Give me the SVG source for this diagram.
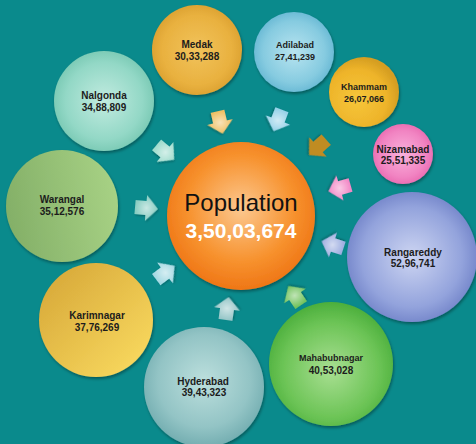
<svg xmlns="http://www.w3.org/2000/svg" xmlns:xlink="http://www.w3.org/1999/xlink" width="476" height="444" viewBox="0 0 476 444">
  <style>
    .lbl { font-family: "Liberation Sans", Arial, sans-serif; font-weight: bold; font-size: 10px; fill: #1c1c1c; text-anchor: middle; }
    .sm { font-size: 9px; }
    .title { font-family: "Liberation Sans", Arial, sans-serif; font-size: 24px; fill: #111; text-anchor: middle; }
    .total { font-family: "Liberation Sans", Arial, sans-serif; font-weight: bold; font-size: 21px; fill: #ffffff; text-anchor: middle; }
    .node circle { filter: url(#sh); }
  </style>
  <defs>
    <filter id="sh" x="-20%" y="-20%" width="140%" height="140%">
      <feDropShadow dx="1" dy="2" stdDeviation="1.8" flood-color="#000" flood-opacity="0.35"/>
    </filter>
    <filter id="ash" x="-30%" y="-30%" width="160%" height="160%">
      <feDropShadow dx="1" dy="1" stdDeviation="1" flood-color="#000" flood-opacity="0.3"/>
    </filter>
    <radialGradient id="gPop" cx="50%" cy="45%" r="55%">
      <stop offset="0" stop-color="#fcc890"/>
      <stop offset="0.65" stop-color="#f7922e"/>
      <stop offset="1" stop-color="#ef7616"/>
    </radialGradient>
    <radialGradient id="gMed" cx="50%" cy="50%" r="55%">
      <stop offset="0" stop-color="#f1c35c"/>
      <stop offset="0.7" stop-color="#e9b13f"/>
      <stop offset="1" stop-color="#d99e2e"/>
    </radialGradient>
    <radialGradient id="gAdi" cx="50%" cy="50%" r="55%">
      <stop offset="0" stop-color="#b8e4f0"/>
      <stop offset="0.7" stop-color="#86cbe0"/>
      <stop offset="1" stop-color="#62b5d2"/>
    </radialGradient>
    <radialGradient id="gKha" cx="40%" cy="60%" r="60%">
      <stop offset="0" stop-color="#f6c63a"/>
      <stop offset="0.7" stop-color="#eeb42a"/>
      <stop offset="1" stop-color="#d59e22"/>
    </radialGradient>
    <radialGradient id="gNiz" cx="50%" cy="50%" r="55%">
      <stop offset="0" stop-color="#fab2dc"/>
      <stop offset="0.7" stop-color="#f184c2"/>
      <stop offset="1" stop-color="#e866ae"/>
    </radialGradient>
    <radialGradient id="gNal" cx="50%" cy="50%" r="55%">
      <stop offset="0" stop-color="#c2ebe0"/>
      <stop offset="0.7" stop-color="#93d8c6"/>
      <stop offset="1" stop-color="#74c6b0"/>
    </radialGradient>
    <linearGradient id="gWar" x1="0" y1="0.5" x2="1" y2="0.3">
      <stop offset="0" stop-color="#84b068"/>
      <stop offset="1" stop-color="#a8d285"/>
    </linearGradient>
    <linearGradient id="gKar" x1="0.1" y1="0.1" x2="0.9" y2="0.9">
      <stop offset="0" stop-color="#d8aa3a"/>
      <stop offset="1" stop-color="#f8d85e"/>
    </linearGradient>
    <radialGradient id="gHyd" cx="50%" cy="45%" r="55%">
      <stop offset="0" stop-color="#bcdfdd"/>
      <stop offset="0.7" stop-color="#93c4c5"/>
      <stop offset="1" stop-color="#74aeb1"/>
    </radialGradient>
    <radialGradient id="gRan" cx="50%" cy="50%" r="55%">
      <stop offset="0" stop-color="#cdd5f2"/>
      <stop offset="0.7" stop-color="#93a3dc"/>
      <stop offset="1" stop-color="#6d7fc6"/>
    </radialGradient>
    <radialGradient id="gMah" cx="50%" cy="55%" r="55%">
      <stop offset="0" stop-color="#a9df92"/>
      <stop offset="0.7" stop-color="#6cc456"/>
      <stop offset="1" stop-color="#4caf3c"/>
    </radialGradient>
    <radialGradient id="shine" cx="50%" cy="50%" r="50%">
      <stop offset="0" stop-color="#ffffff" stop-opacity="0.55"/>
      <stop offset="1" stop-color="#ffffff" stop-opacity="0"/>
    </radialGradient>
    <polygon id="arr" points="-11,-7 0,-7 0,-13 12,0 0,13 0,7 -11,7"/>
  </defs>

  <rect width="476" height="444" fill="#0a8a8c"/>

  <g id="connectors">
    <g transform="translate(220,122) rotate(77)"><use xlink:href="#arr" fill="#efbf62" filter="url(#ash)"/><use xlink:href="#arr" fill="url(#shine)"/></g>
    <g transform="translate(278,120) rotate(111)"><use xlink:href="#arr" fill="#95d2e8" filter="url(#ash)"/><use xlink:href="#arr" fill="url(#shine)"/></g>
    <g transform="translate(318,147) rotate(138)"><use xlink:href="#arr" fill="#c08c24" filter="url(#ash)"/></g>
    <g transform="translate(340,188) rotate(164)"><use xlink:href="#arr" fill="#f288c6" filter="url(#ash)"/><use xlink:href="#arr" fill="url(#shine)"/></g>
    <g transform="translate(333,245) rotate(-162)"><use xlink:href="#arr" fill="#9eaee0" filter="url(#ash)"/><use xlink:href="#arr" fill="url(#shine)"/></g>
    <g transform="translate(295,296) rotate(-124)"><use xlink:href="#arr" fill="#72c25c" filter="url(#ash)"/><use xlink:href="#arr" fill="url(#shine)"/></g>
    <g transform="translate(227,309) rotate(-82)"><use xlink:href="#arr" fill="#96c6c8" filter="url(#ash)"/><use xlink:href="#arr" fill="url(#shine)"/></g>
    <g transform="translate(165,273) rotate(-37)"><use xlink:href="#arr" fill="#a2d8e2" filter="url(#ash)"/><use xlink:href="#arr" fill="url(#shine)"/></g>
    <g transform="translate(146,208) rotate(5)"><use xlink:href="#arr" fill="#88cdc2" filter="url(#ash)"/><use xlink:href="#arr" fill="url(#shine)"/></g>
    <g transform="translate(165,152) rotate(40)"><use xlink:href="#arr" fill="#9edccd" filter="url(#ash)"/><use xlink:href="#arr" fill="url(#shine)"/></g>
  </g>

  <g id="population" class="node">
    <circle cx="241" cy="216" r="74" fill="url(#gPop)"/>
    <text class="title" x="241" y="211">Population</text>
    <text class="total" x="241" y="238">3,50,03,674</text>
  </g>
  <g id="medak" class="node">
    <circle cx="197" cy="50" r="45" fill="url(#gMed)"/>
    <text class="lbl" x="197" y="48">Medak</text>
    <text class="lbl" x="197" y="60">30,33,288</text>
  </g>
  <g id="adilabad" class="node">
    <circle cx="294" cy="52" r="40" fill="url(#gAdi)"/>
    <text class="lbl sm" x="295" y="48">Adilabad</text>
    <text class="lbl sm" x="295" y="60">27,41,239</text>
  </g>
  <g id="khammam" class="node">
    <circle cx="364" cy="92" r="35" fill="url(#gKha)"/>
    <text class="lbl sm" x="364" y="90">Khammam</text>
    <text class="lbl sm" x="364" y="102">26,07,066</text>
  </g>
  <g id="nizamabad" class="node">
    <circle cx="403" cy="154" r="30" fill="url(#gNiz)"/>
    <text class="lbl" x="403" y="152.5">Nizamabad</text>
    <text class="lbl" x="403" y="164">25,51,335</text>
  </g>
  <g id="rangareddy" class="node">
    <circle cx="412" cy="257" r="65" fill="url(#gRan)"/>
    <text class="lbl" x="413" y="255.5">Rangareddy</text>
    <text class="lbl" x="413" y="267">52,96,741</text>
  </g>
  <g id="mahabubnagar" class="node">
    <circle cx="331" cy="364" r="62" fill="url(#gMah)"/>
    <text class="lbl sm" x="331" y="361">Mahabubnagar</text>
    <text class="lbl" x="331" y="373.5">40,53,028</text>
  </g>
  <g id="hyderabad" class="node">
    <circle cx="204" cy="387" r="60" fill="url(#gHyd)"/>
    <text class="lbl" x="203" y="384.5">Hyderabad</text>
    <text class="lbl" x="204" y="396">39,43,323</text>
  </g>
  <g id="karimnagar" class="node">
    <circle cx="96" cy="320" r="57" fill="url(#gKar)"/>
    <text class="lbl" x="97" y="318.5">Karimnagar</text>
    <text class="lbl" x="97" y="330.5">37,76,269</text>
  </g>
  <g id="warangal" class="node">
    <circle cx="62" cy="206" r="56" fill="url(#gWar)"/>
    <text class="lbl" x="62" y="202.5">Warangal</text>
    <text class="lbl" x="62" y="214.5">35,12,576</text>
  </g>
  <g id="nalgonda" class="node">
    <circle cx="104" cy="101" r="50" fill="url(#gNal)"/>
    <text class="lbl" x="104" y="98.5">Nalgonda</text>
    <text class="lbl" x="104" y="110.5">34,88,809</text>
  </g>
</svg>
